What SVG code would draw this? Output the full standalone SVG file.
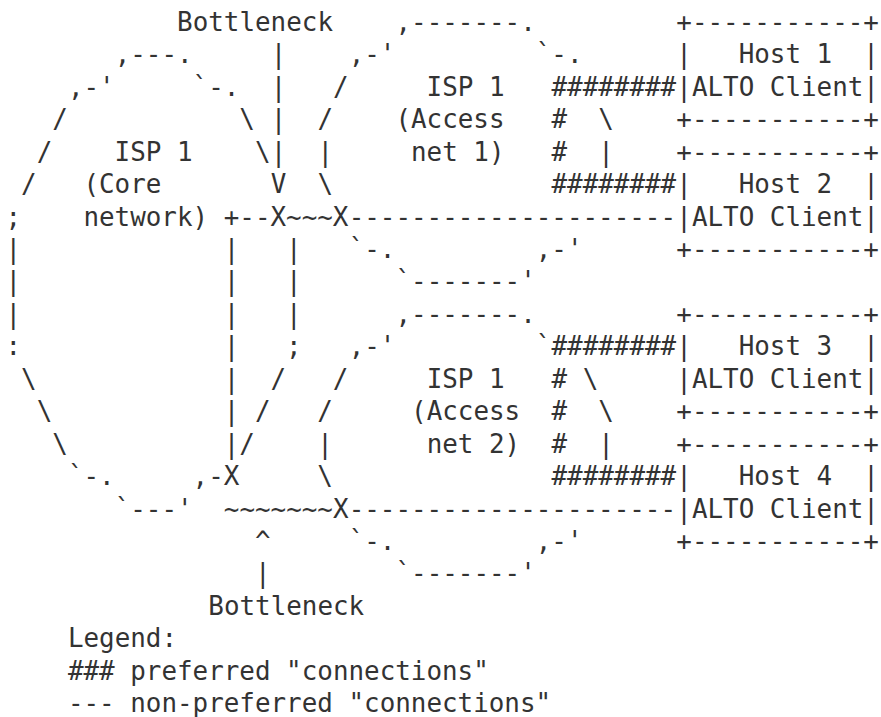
<svg xmlns="http://www.w3.org/2000/svg" width="881" height="717" viewBox="0 0 881 717" xml:space="preserve">
<style>
text { font-family: "DejaVu Sans Mono", "Liberation Mono", monospace; font-size: 25.9px; fill: #333333; white-space: pre; }
</style>
<rect x="0" y="0" width="881" height="717" fill="#ffffff"/>
<g id="bottleneck-top">
<text x="177.1" y="30.8">Bottleneck</text>
<text x="270.7" y="63.25">|</text>
<text x="270.7" y="95.7">|</text>
<text x="270.7" y="128.15">|</text>
<text x="270.7" y="160.6">|</text>
<text x="270.7" y="193.05">V</text>
</g>
<g id="core-network">
<text x="114.7" y="63.25">,---.</text>
<text x="67.9" y="95.7">,-'     `-.</text>
<text x="52.3" y="128.15">/           \</text>
<text x="36.7" y="160.6">/    ISP 1    \</text>
<text x="21.1" y="193.05">/   (Core</text>
<text x="5.5" y="225.5">;    network) +--X~~~X</text>
<text x="5.5" y="257.95">|             |   |</text>
<text x="5.5" y="290.4">|             |   |</text>
<text x="5.5" y="322.85">|             |   |</text>
<text x="5.5" y="355.3">:             |   ;</text>
<text x="21.1" y="387.75">\            |  /   /</text>
<text x="36.7" y="420.2">\           | /   /</text>
<text x="52.3" y="452.65">\          |/    |</text>
<text x="67.9" y="485.1">`-.     ,-X     \</text>
<text x="114.7" y="517.55">`---'  ~~~~~~~X</text>
</g>
<g id="access-net-1">
<text x="395.5" y="30.8">,-------.</text>
<text x="348.7" y="63.25">,-'         `-.</text>
<text x="333.1" y="95.7">/     ISP 1</text>
<text x="317.5" y="128.15">/    (Access</text>
<text x="598.3" y="128.15">\</text>
<text x="317.5" y="160.6">|     net 1)</text>
<text x="598.3" y="160.6">|</text>
<text x="317.5" y="193.05">\</text>
<text x="348.7" y="257.95">`-.         ,-'</text>
<text x="395.5" y="290.4">`-------'</text>
</g>
<g id="access-net-2">
<text x="395.5" y="322.85">,-------.</text>
<text x="348.7" y="355.3">,-'         `</text>
<text x="426.7" y="387.75">ISP 1</text>
<text x="582.7" y="387.75">\</text>
<text x="411.1" y="420.2">(Access</text>
<text x="598.3" y="420.2">\</text>
<text x="426.7" y="452.65">net 2)</text>
<text x="598.3" y="452.65">|</text>
<text x="348.7" y="550">`-.         ,-'</text>
<text x="395.5" y="582.45">`-------'</text>
</g>
<g id="connectors">
<text x="551.5" y="95.7">########</text>
<text x="551.5" y="128.15">#</text>
<text x="551.5" y="160.6">#</text>
<text x="551.5" y="193.05">########</text>
<text x="348.7" y="225.5">---------------------</text>
<text x="551.5" y="355.3">########</text>
<text x="551.5" y="387.75">#</text>
<text x="551.5" y="420.2">#</text>
<text x="551.5" y="452.65">#</text>
<text x="551.5" y="485.1">########</text>
<text x="348.7" y="517.55">---------------------</text>
</g>
<g id="host1">
<text x="676.3" y="30.8">+-----------+</text>
<text x="676.3" y="63.25">|   Host 1  |</text>
<text x="676.3" y="95.7">|ALTO Client|</text>
<text x="676.3" y="128.15">+-----------+</text>
</g>
<g id="host2">
<text x="676.3" y="160.6">+-----------+</text>
<text x="676.3" y="193.05">|   Host 2  |</text>
<text x="676.3" y="225.5">|ALTO Client|</text>
<text x="676.3" y="257.95">+-----------+</text>
</g>
<g id="host3">
<text x="676.3" y="322.85">+-----------+</text>
<text x="676.3" y="355.3">|   Host 3  |</text>
<text x="676.3" y="387.75">|ALTO Client|</text>
<text x="676.3" y="420.2">+-----------+</text>
</g>
<g id="host4">
<text x="676.3" y="452.65">+-----------+</text>
<text x="676.3" y="485.1">|   Host 4  |</text>
<text x="676.3" y="517.55">|ALTO Client|</text>
<text x="676.3" y="550">+-----------+</text>
</g>
<g id="bottleneck-bottom">
<text x="255.1" y="550">^</text>
<text x="255.1" y="582.45">|</text>
<text x="208.3" y="614.9">Bottleneck</text>
</g>
<g id="legend">
<text x="67.9" y="647.35">Legend:</text>
<text x="67.9" y="679.8">### preferred "connections"</text>
<text x="67.9" y="712.25">--- non-preferred "connections"</text>
</g>
</svg>
